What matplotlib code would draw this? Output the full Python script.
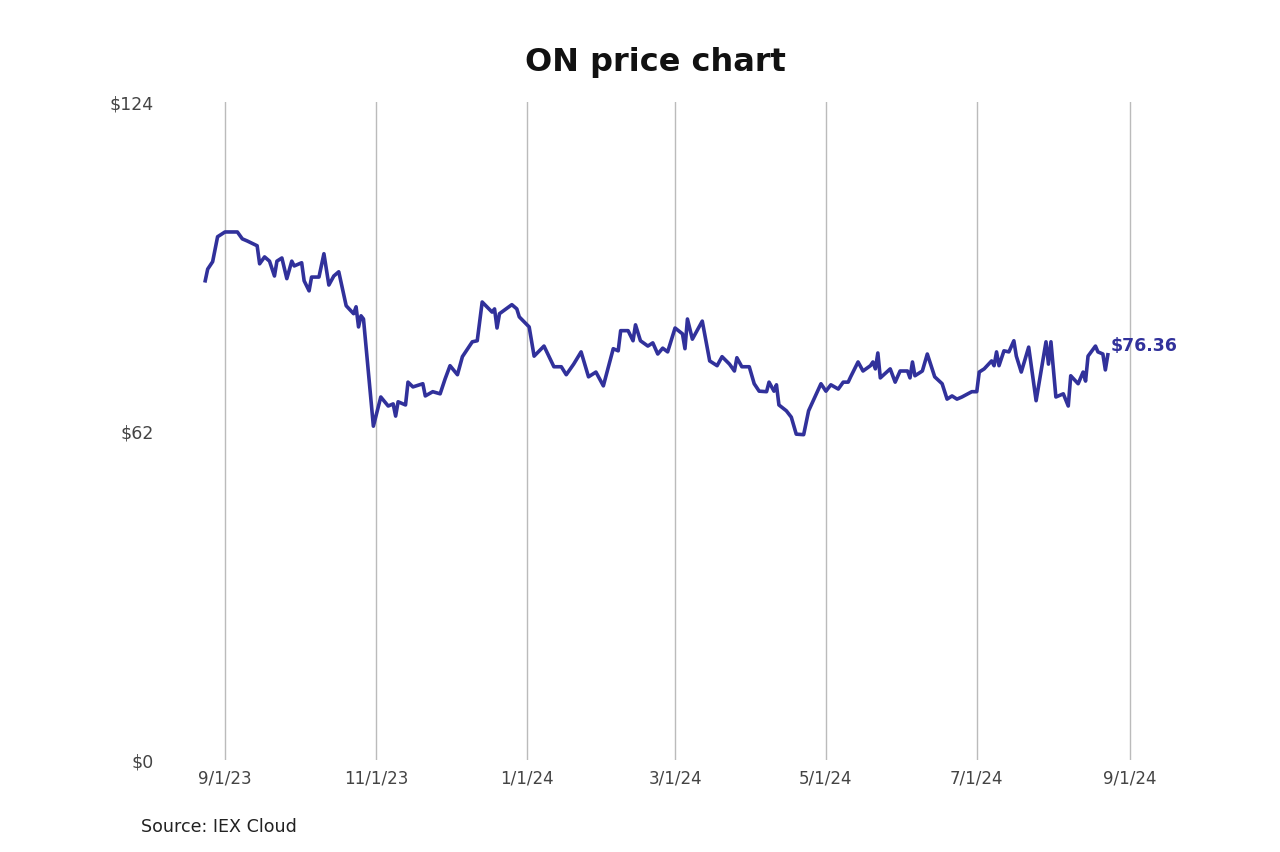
import numpy as np
import pandas as pd
import matplotlib
matplotlib.use("Agg")
import matplotlib.pyplot as plt
import matplotlib.dates as mdates

# price readings (approximate)
dates = [
    "2023-08-24", "2023-08-25", "2023-08-27", "2023-08-29", "2023-09-01", "2023-09-06",
    "2023-09-08", "2023-09-10", "2023-09-14", "2023-09-15", "2023-09-17", "2023-09-19",
    "2023-09-21", "2023-09-22", "2023-09-24", "2023-09-26", "2023-09-28", "2023-09-29",
    "2023-10-02", "2023-10-03", "2023-10-05", "2023-10-06", "2023-10-09", "2023-10-11",
    "2023-10-13", "2023-10-15", "2023-10-17", "2023-10-20", "2023-10-23", "2023-10-24",
    "2023-10-25", "2023-10-26", "2023-10-27", "2023-10-31", "2023-11-03", "2023-11-06",
    "2023-11-08", "2023-11-09", "2023-11-10", "2023-11-13", "2023-11-14", "2023-11-16",
    "2023-11-20", "2023-11-21", "2023-11-24", "2023-11-27", "2023-11-29", "2023-12-01",
    "2023-12-04", "2023-12-06", "2023-12-10", "2023-12-12", "2023-12-14", "2023-12-18",
    "2023-12-19", "2023-12-20", "2023-12-21", "2023-12-26", "2023-12-28", "2023-12-29",
    "2024-01-02", "2024-01-04", "2024-01-08", "2024-01-12", "2024-01-15", "2024-01-17",
    "2024-01-20", "2024-01-23", "2024-01-26", "2024-01-29", "2024-02-01", "2024-02-05",
    "2024-02-07", "2024-02-08", "2024-02-11", "2024-02-13", "2024-02-14", "2024-02-16",
    "2024-02-19", "2024-02-21", "2024-02-23", "2024-02-25", "2024-02-27", "2024-03-01",
    "2024-03-04", "2024-03-05", "2024-03-06", "2024-03-08", "2024-03-12", "2024-03-15",
    "2024-03-18", "2024-03-20", "2024-03-23", "2024-03-25", "2024-03-26", "2024-03-28",
    "2024-03-31", "2024-04-02", "2024-04-04", "2024-04-07", "2024-04-08", "2024-04-10",
    "2024-04-11", "2024-04-12", "2024-04-15", "2024-04-17", "2024-04-19", "2024-04-22",
    "2024-04-24", "2024-04-29", "2024-05-01", "2024-05-03", "2024-05-06", "2024-05-08",
    "2024-05-10", "2024-05-11", "2024-05-14", "2024-05-16", "2024-05-19", "2024-05-20",
    "2024-05-21", "2024-05-22", "2024-05-23", "2024-05-27", "2024-05-29", "2024-05-31",
    "2024-06-03", "2024-06-04", "2024-06-05", "2024-06-06", "2024-06-09", "2024-06-11",
    "2024-06-14", "2024-06-17", "2024-06-19", "2024-06-21", "2024-06-23", "2024-06-25",
    "2024-06-29", "2024-07-01", "2024-07-02", "2024-07-04", "2024-07-07", "2024-07-08",
    "2024-07-09", "2024-07-10", "2024-07-12", "2024-07-14", "2024-07-16", "2024-07-17",
    "2024-07-19", "2024-07-22", "2024-07-25", "2024-07-29", "2024-07-30", "2024-07-31",
    "2024-08-02", "2024-08-05", "2024-08-07", "2024-08-08", "2024-08-11", "2024-08-13",
    "2024-08-14", "2024-08-15", "2024-08-18", "2024-08-19", "2024-08-21", "2024-08-22",
    "2024-08-23",
]
prices = [
    90.3, 92.5, 93.9, 98.6, 99.5, 99.5,
    98.2, 97.8, 96.9, 93.5, 94.8, 94.0,
    91.2, 94.0, 94.6, 90.7, 94.0, 93.1,
    93.7, 90.3, 88.4, 91.0, 91.0, 95.4,
    89.5, 91.2, 92.0, 85.6, 84.1, 85.4,
    81.6, 83.7, 83.1, 62.9, 68.4, 66.7,
    67.1, 64.8, 67.5, 66.9, 71.2, 70.3,
    70.9, 68.6, 69.4, 69.0, 71.8, 74.3,
    72.6, 76.0, 78.8, 79.0, 86.3, 84.4,
    85.0, 81.4, 84.1, 85.8, 85.0, 83.5,
    81.6, 76.1, 78.0, 74.1, 74.1, 72.6,
    74.6, 76.9, 72.2, 73.1, 70.5, 77.5,
    77.1, 80.9, 80.9, 79.0, 82.0, 79.0,
    78.0, 78.6, 76.5, 77.6, 76.9, 81.4,
    80.3, 77.5, 83.1, 79.3, 82.7, 75.2,
    74.3, 76.0, 74.6, 73.3, 75.8, 74.1,
    74.1, 70.9, 69.5, 69.4, 71.2, 69.5,
    70.7, 66.9, 65.8, 64.6, 61.4, 61.3,
    65.8, 70.9, 69.5, 70.7, 69.9, 71.2,
    71.2, 72.2, 75.0, 73.3, 74.3, 75.0,
    73.7, 76.7, 72.0, 73.7, 71.2, 73.3,
    73.3, 72.0, 75.0, 72.4, 73.3, 76.5,
    72.2, 70.9, 68.0, 68.6, 68.0, 68.4,
    69.4, 69.4, 73.1, 73.7, 75.2, 74.3,
    76.9, 74.3, 77.1, 76.9, 79.0, 76.1,
    73.1, 77.8, 67.7, 78.8, 74.6, 78.8,
    68.4, 69.0, 66.7, 72.4, 70.9, 73.1,
    71.4, 76.1, 78.0, 76.9, 76.5, 73.5,
    76.36,
]

tick_dates = ["2023-09-01", "2023-11-01", "2024-01-01", "2024-03-01",
              "2024-05-01", "2024-07-01", "2024-09-01"]
tick_labels = ["9/1/23", "11/1/23", "1/1/24", "3/1/24", "5/1/24", "7/1/24", "9/1/24"]
y_ticks = [0, 62, 124]
y_labels = ["$0", "$62", "$124"]

line_color = "#31319b"

df = pd.DataFrame({"date": pd.to_datetime(dates), "price": prices})

fig = plt.figure(figsize=(12.8, 8.53), dpi=100)
ax = fig.add_axes([0.1526, 0.1079, 0.738, 0.7714])

ax.plot(df["date"], df["price"], color=line_color, linewidth=2.6, solid_joinstyle="round")

ax.set_xlim(pd.Timestamp("2023-08-20"), pd.Timestamp("2024-09-05"))
ax.set_ylim(0, 124)

ax.set_xticks(pd.to_datetime(tick_dates))
ax.set_xticklabels(tick_labels)
ax.set_yticks(y_ticks)
ax.set_yticklabels(y_labels)
ax.tick_params(axis="both", length=0, labelsize=12, labelcolor="#444444")
ax.tick_params(axis="x", pad=6)
ax.tick_params(axis="y", pad=30, labelsize=12.5)

ax.grid(axis="x", color="#bbbbbb", linewidth=1)
ax.grid(axis="y", visible=False)
for sp in ax.spines.values():
    sp.set_visible(False)

# last price label
last = df.iloc[-1]
ax.annotate("${:.2f}".format(last["price"]), xy=(last["date"], last["price"]),
            xytext=(2, 7), textcoords="offset points", va="center", ha="left",
            fontsize=12.5, fontweight="bold", color=line_color)

fig.text(0.512, 0.927, "ON price chart", ha="center", va="center",
         fontsize=23, fontweight="bold", color="#111111")
fig.text(0.110, 0.030, "Source: IEX Cloud", ha="left", va="center",
         fontsize=12.6, color="#222222")

fig.savefig("out.png", dpi=100)
